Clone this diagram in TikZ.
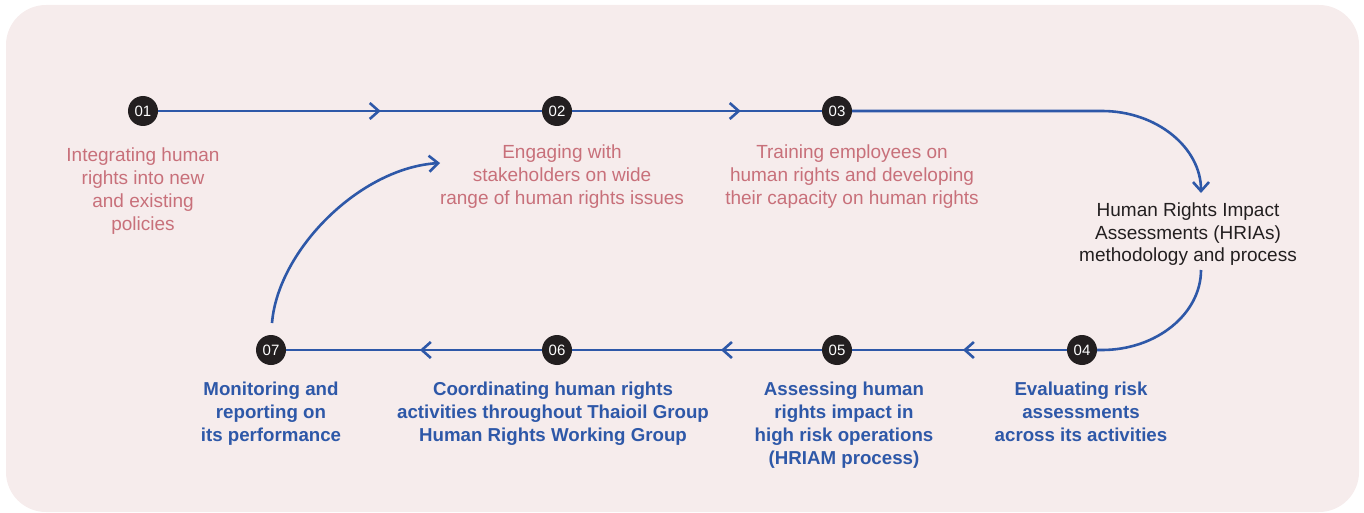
\documentclass[tikz,border=0pt]{standalone}
\usepackage{fontspec}
\setmainfont{Liberation Sans}
\usetikzlibrary{arrows.meta,decorations.markings}
\definecolor{panel}{HTML}{F6ECEC}
\definecolor{flow}{HTML}{2E58A8}
\definecolor{rose}{HTML}{C8707A}
\definecolor{ink}{HTML}{231F20}
\tikzset{chev/.tip={Straight Barb[length=9pt,width=16pt]}}
\begin{document}
\begin{tikzpicture}[x=1pt,y=-1pt,
  stepdot/.style={circle,fill=ink,minimum size=30pt,inner sep=0pt,text=white,
    font=\fontsize{15}{15}\selectfont},
  roselabel/.style={align=center,anchor=north,inner sep=0pt,text=rose,
    font=\fontsize{19}{23}\selectfont},
  bluelabel/.style={align=center,anchor=north,inner sep=0pt,text=flow,
    font=\bfseries\fontsize{18.7}{23}\selectfont},
  inklabel/.style={align=center,anchor=north,inner sep=0pt,text=ink,
    font=\fontsize{19}{22.5}\selectfont},
  flowline/.style={draw=flow,line width=2.6pt},
  midarrow/.style={postaction={decorate},
    decoration={markings,mark=at position #1 with {\arrow{chev}}}}
]
\useasboundingbox (0,0) rectangle (1364,513);
\fill[panel,rounded corners=40pt] (6,5) rectangle (1359,512);

% step markers
\node[stepdot] (s1) at (143,111) {01};
\node[stepdot] (s2) at (557,111) {02};
\node[stepdot] (s3) at (837,111) {03};
\node[stepdot] (s4) at (1082,350) {04};
\node[stepdot] (s5) at (837,350) {05};
\node[stepdot] (s6) at (557,350) {06};
\node[stepdot] (s7) at (271,350) {07};

% step descriptions
\node[roselabel] (l1) at (143,148) {Integrating human\\rights into new\\and existing\\policies};
\node[roselabel] (l2) at (562,144.5) {Engaging with\\stakeholders on wide\\range of human rights issues};
\node[roselabel] (l3) at (852,144.5) {Training employees on\\human rights and developing\\their capacity on human rights};
\node[inklabel] (hria) at (1188,203) {Human Rights Impact\\Assessments (HRIAs)\\methodology and process};
\node[bluelabel] (l4) at (1081,382) {Evaluating risk\\assessments\\across its activities};
\node[bluelabel] (l5) at (844,382) {Assessing human\\rights impact in\\high risk operations\\(HRIAM process)};
\node[bluelabel] (l6) at (553,382) {Coordinating human rights\\activities throughout Thaioil Group\\Human Rights Working Group};
\node[bluelabel] (l7) at (271,382) {Monitoring and\\reporting on\\its performance};

% bend points of the loop
\coordinate (a1) at (1102,111);
\coordinate (a2) at (1201,193);
\coordinate (b1) at (1201,270);
\coordinate (b2) at (1102,350);
\coordinate (c1) at (272,323);
\coordinate (c2) at (440,163);

% flow connectors
\draw[flowline,midarrow=0.58] (s1) -- (s2);
\draw[flowline,midarrow=0.675] (s2) -- (s3);
\draw[flowline,-chev] (s3) -- (a1) .. controls (1156.7,111) and (1201,147.7) .. (a2);
\draw[flowline] (b1) .. controls (1201,313.6) and (1156.7,350) .. (b2) -- (s4);
\draw[flowline,midarrow=0.484] (s4) -- (s5);
\draw[flowline,midarrow=0.404] (s5) -- (s6);
\draw[flowline,midarrow=0.477] (s6) -- (s7);
\draw[flowline,-chev] (c1) .. controls (278,250) and (360,168) .. (c2);
\end{tikzpicture}
\end{document}
